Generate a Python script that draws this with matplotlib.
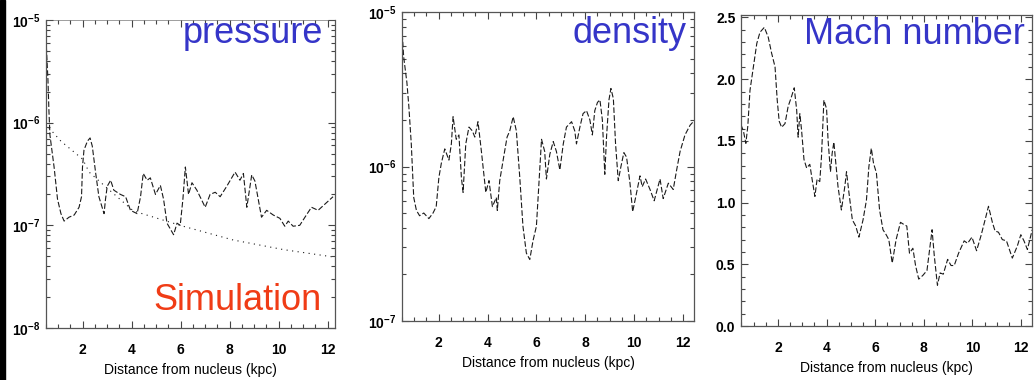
# three panels: pressure, density and Mach number along the jet
import numpy as np
import matplotlib
matplotlib.use("Agg")
from matplotlib import pyplot as plt
from matplotlib.ticker import MultipleLocator, LogLocator, NullFormatter

plt.rcParams["font.family"] = ["Liberation Sans", "DejaVu Sans"]
plt.rcParams["mathtext.default"] = "regular"

# pressure (simulation, dashed)
pres_x = [0.50, 0.58, 0.62, 0.66, 0.83, 0.97, 1.11, 1.24, 1.44, 1.65, 1.85, 1.95, 1.99, 2.05,
          2.19, 2.30, 2.39, 2.53, 2.66, 2.87, 2.93, 3.00, 3.14, 3.27, 3.54, 3.75, 3.95, 4.22,
          4.36, 4.47, 4.63, 4.76, 4.97, 5.17, 5.30, 5.44, 5.71, 5.85, 5.98, 6.09, 6.19, 6.32,
          6.46, 6.66, 7.00, 7.20, 7.41, 7.61, 7.88, 8.22, 8.42, 8.56, 8.70, 8.90, 9.03, 9.30,
          9.51, 9.78, 10.05, 10.25, 10.39, 10.59, 10.86, 11.13, 11.34, 11.61, 11.95, 12.22]
pres_y = [6.5e-6, 2.6e-6, 1.3e-6, 7.6e-7, 3.7e-7, 1.8e-7, 1.3e-7, 1.1e-7, 1.2e-7, 1.26e-7,
          1.5e-7, 1.9e-7, 3.7e-7, 5.4e-7, 6.6e-7, 7.1e-7, 5.9e-7, 3.2e-7, 1.9e-7, 1.3e-7,
          1.8e-7, 2.4e-7, 2.75e-7, 2.2e-7, 2.0e-7, 1.9e-7, 1.4e-7, 1.3e-7, 1.9e-7, 3.2e-7,
          2.75e-7, 2.9e-7, 2.0e-7, 2.45e-7, 1.8e-7, 1.05e-7, 8.1e-8, 1.05e-7, 1.0e-7, 1.8e-7,
          3.7e-7, 2.0e-7, 2.6e-7, 2.2e-7, 1.5e-7, 2.0e-7, 2.1e-7, 1.9e-7, 2.4e-7, 3.3e-7,
          2.75e-7, 3.2e-7, 1.5e-7, 3.1e-7, 2.7e-7, 1.2e-7, 1.4e-7, 1.26e-7, 1.17e-7, 9.8e-8,
          1.1e-7, 9.8e-8, 1.0e-7, 1.26e-7, 1.5e-7, 1.4e-7, 1.66e-7, 1.9e-7]

# ambient pressure (dotted)
amb_x = [0.62, 1.11, 2.00, 2.26, 3.00, 4.07, 6.10, 8.14, 10.20, 12.28]
amb_y = [8.9e-7, 6.6e-7, 4.4e-7, 3.3e-7, 2.3e-7, 1.38e-7, 9.8e-8, 7.2e-8, 5.8e-8, 4.9e-8]

# density
dens_x = [0.51, 0.57, 0.70, 0.78, 0.88, 0.98, 1.09, 1.22, 1.39, 1.60, 1.77, 1.90, 2.01, 2.11,
          2.25, 2.42, 2.52, 2.59, 2.72, 2.83, 2.93, 3.00, 3.11, 3.24, 3.38, 3.48, 3.61, 3.75,
          3.93, 4.06, 4.20, 4.36, 4.40, 4.50, 4.66, 4.80, 4.91, 5.05, 5.18, 5.32, 5.45, 5.59,
          5.73, 5.86, 6.00, 6.07, 6.21, 6.34, 6.41, 6.55, 6.69, 6.82, 6.96, 7.10, 7.23, 7.44,
          7.57, 7.64, 7.78, 7.91, 8.05, 8.19, 8.29, 8.39, 8.50, 8.60, 8.70, 8.80, 8.87, 8.97,
          9.05, 9.15, 9.24, 9.35, 9.46, 9.58, 9.69, 9.83, 9.94, 10.06, 10.24, 10.33, 10.47,
          10.65, 10.82, 11.06, 11.19, 11.40, 11.60, 11.74, 11.88, 12.08, 12.29, 12.42]
dens_y = [7.2e-6, 5.1e-6, 3.5e-6, 2.45e-6, 1.4e-6, 6.3e-7, 5.2e-7, 4.8e-7, 5.0e-7, 4.6e-7,
          5.0e-7, 5.5e-7, 8.5e-7, 1.05e-6, 1.3e-6, 1.1e-6, 1.4e-6, 2.1e-6, 1.5e-6, 1.6e-6,
          8.5e-7, 6.8e-7, 1.4e-6, 1.8e-6, 1.7e-6, 1.55e-6, 1.95e-6, 1.25e-6, 6.8e-7, 8.1e-7,
          5.5e-7, 6.3e-7, 5.2e-7, 8.1e-7, 1.15e-6, 1.55e-6, 1.7e-6, 2.1e-6, 1.7e-6, 8.5e-7,
          4.1e-7, 2.75e-7, 2.5e-7, 3.3e-7, 4.1e-7, 6.3e-7, 1.5e-6, 1.25e-6, 8.3e-7, 1.2e-6,
          1.45e-6, 1.25e-6, 9.5e-7, 1.4e-6, 1.8e-6, 1.95e-6, 1.7e-6, 1.4e-6, 1.8e-6, 2.2e-6,
          2.3e-6, 2.0e-6, 1.6e-6, 2.3e-6, 2.6e-6, 2.7e-6, 2.0e-6, 8.9e-7, 1.55e-6, 2.7e-6,
          3.2e-6, 2.75e-6, 1.4e-6, 8.1e-7, 1.0e-6, 1.23e-6, 1.15e-6, 7.8e-7, 5.1e-7, 6.3e-7,
          8.7e-7, 7.4e-7, 8.3e-7, 7.1e-7, 6.0e-7, 8.3e-7, 6.2e-7, 7.8e-7, 7.1e-7, 9.5e-7,
          1.25e-6, 1.6e-6, 1.85e-6, 1.95e-6]

# Mach number
mach_x = [0.48, 0.58, 0.68, 0.76, 0.85, 0.99, 1.13, 1.26, 1.44, 1.60, 1.74, 1.88, 1.97, 2.05,
          2.15, 2.29, 2.42, 2.56, 2.67, 2.77, 2.83, 2.90, 2.97, 3.07, 3.18, 3.31, 3.42, 3.52,
          3.61, 3.72, 3.79, 3.89, 4.00, 4.06, 4.16, 4.23, 4.30, 4.38, 4.47, 4.61, 4.75, 4.82,
          4.92, 5.06, 5.20, 5.33, 5.50, 5.64, 5.74, 5.84, 5.93, 6.05, 6.18, 6.32, 6.45, 6.56,
          6.70, 6.86, 7.04, 7.20, 7.30, 7.41, 7.55, 7.66, 7.79, 7.96, 8.13, 8.34, 8.43, 8.56,
          8.67, 8.80, 8.98, 9.12, 9.25, 9.43, 9.66, 9.80, 9.98, 10.17, 10.35, 10.52, 10.66,
          10.82, 10.93, 11.07, 11.23, 11.40, 11.64, 11.85, 11.99, 12.12, 12.26, 12.46]
mach_y = [1.63, 1.58, 1.48, 1.62, 1.91, 2.10, 2.29, 2.38, 2.42, 2.34, 2.21, 2.10, 1.83, 1.66,
          1.61, 1.64, 1.78, 1.86, 1.93, 1.75, 1.53, 1.72, 1.59, 1.35, 1.28, 1.31, 1.17, 1.05,
          1.19, 1.17, 1.37, 1.83, 1.76, 1.51, 1.25, 1.40, 1.49, 1.32, 1.13, 0.94, 1.13, 1.25,
          1.08, 0.86, 0.81, 0.72, 0.86, 1.02, 1.29, 1.44, 1.32, 1.24, 0.94, 0.78, 0.74, 0.70,
          0.51, 0.70, 0.84, 0.82, 0.81, 0.59, 0.63, 0.49, 0.38, 0.41, 0.45, 0.78, 0.57, 0.33,
          0.43, 0.42, 0.54, 0.49, 0.49, 0.59, 0.69, 0.67, 0.72, 0.61, 0.73, 0.86, 0.97, 0.84,
          0.77, 0.76, 0.70, 0.69, 0.55, 0.65, 0.74, 0.69, 0.62, 0.78]

W, H = 1034, 380
fig = plt.figure(figsize=(W / 100, H / 100), dpi=100)
fig.patch.set_facecolor("white")


def box(left, right, top, bottom):
    # pixel box -> figure fraction axes
    return fig.add_axes([left / W, (H - bottom) / H, (right - left) / W, (bottom - top) / H])


ax1 = box(46, 335, 20, 328)
ax2 = box(402, 694, 12, 321)
ax3 = box(741, 1032, 15, 326)

LINE = dict(color="#1a1a1a", lw=0.8, linestyle=(0, (5, 2)))
BLUE = "#3535c8"
RED = "#f03c16"

ax1.plot(pres_x, pres_y, **LINE)
ax1.plot(amb_x, amb_y, color="#1a1a1a", lw=0.8, linestyle=(0, (1, 4)))
ax1.set_yscale("log")
ax1.set_ylim(1e-8, 1e-5)
ax1.set_xlim(0.5, 12.3)

ax2.plot(dens_x, dens_y, **LINE)
ax2.set_yscale("log")
ax2.set_ylim(1e-7, 1e-5)
ax2.set_xlim(0.5, 12.45)

ax3.plot(mach_x, mach_y, **LINE)
ax3.set_ylim(0, 2.52)
ax3.set_xlim(0.48, 12.45)
ax3.yaxis.set_major_locator(MultipleLocator(0.5))
ax3.yaxis.set_minor_locator(MultipleLocator(0.1))
ax3.yaxis.set_major_formatter(matplotlib.ticker.FormatStrFormatter("%.1f"))

for ax in (ax1, ax2, ax3):
    ax.xaxis.set_major_locator(MultipleLocator(2))
    ax.xaxis.set_minor_locator(MultipleLocator(0.5))
    ax.tick_params(which="both", direction="in", top=True, right=True, color="#444444",
                   labelsize=10, width=0.8)
    ax.tick_params(which="major", length=5)
    ax.tick_params(which="minor", length=3)
    ax.tick_params(axis="x", pad=10.5)
    ax.tick_params(axis="y", pad=4)
    for lab in ax.get_xticklabels() + ax.get_yticklabels():
        lab.set_fontweight("bold")
    for sp in ax.spines.values():
        sp.set_color("#555555")
        sp.set_linewidth(0.9)
    ax.set_xlabel("Distance from nucleus (kpc)", fontsize=10)
    ax.xaxis.set_label_coords(0.5, -0.113)

for ax in (ax1, ax2):
    ax.yaxis.set_major_locator(LogLocator(base=10))
    ax.yaxis.set_minor_locator(LogLocator(base=10, subs=np.arange(2, 10)))
    ax.yaxis.set_minor_formatter(NullFormatter())

ax1.spines["top"].set_linewidth(0.4)

ax1.text(0.958, 0.925, "pressure", transform=ax1.transAxes, ha="right", va="baseline",
         fontsize=26, color=BLUE)
ax1.text(0.955, 0.058, "Simulation", transform=ax1.transAxes, ha="right", va="baseline",
         fontsize=26, color=RED)
ax2.text(0.976, 0.90, "density", transform=ax2.transAxes, ha="right", va="baseline",
         fontsize=26, color=BLUE)
ax3.text(0.976, 0.907, "Mach number", transform=ax3.transAxes, ha="right", va="baseline",
         fontsize=26, color=BLUE)

# black bar on the left edge
fig.add_artist(plt.Rectangle((0, 0), 5 / W, 1, transform=fig.transFigure, color="black"))

fig.savefig("out.png", dpi=100)
